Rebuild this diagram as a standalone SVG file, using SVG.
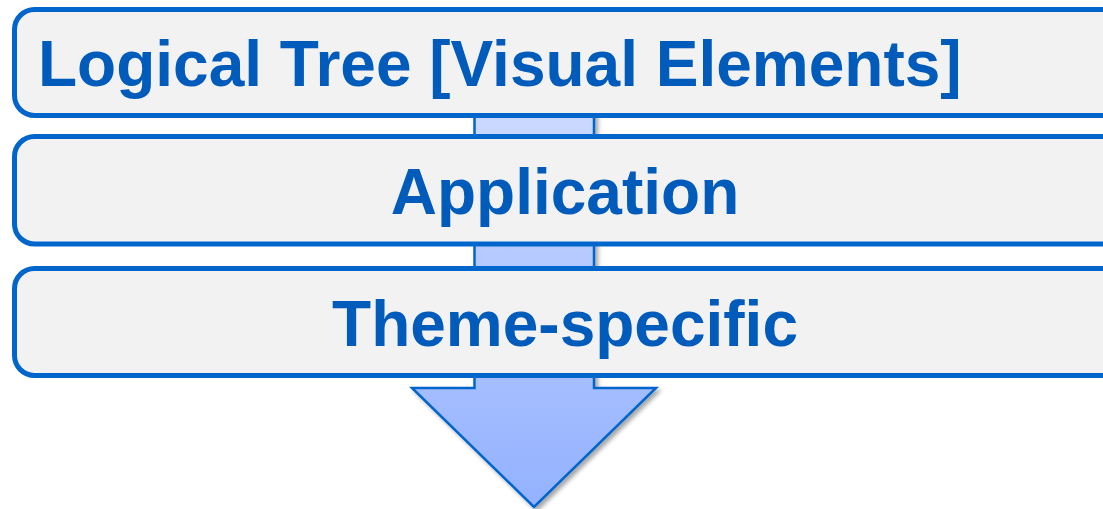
<svg xmlns="http://www.w3.org/2000/svg" width="1103" height="509" viewBox="0 0 1103 509">
  <defs>
    <linearGradient id="arrowGrad" x1="0" y1="0" x2="0" y2="1">
      <stop offset="0" stop-color="#d2deff"/>
      <stop offset="1" stop-color="#93b1ff"/>
    </linearGradient>
    <filter id="shadow" x="-10%" y="-10%" width="130%" height="130%">
      <feGaussianBlur in="SourceAlpha" stdDeviation="2"/>
      <feOffset dx="3" dy="3" result="b"/>
      <feComponentTransfer><feFuncA type="linear" slope="0.35"/></feComponentTransfer>
      <feMerge><feMergeNode/><feMergeNode in="SourceGraphic"/></feMerge>
    </filter>
    <style>
      .box { fill: #f2f2f2; stroke: #0066cc; stroke-width: 5; }
      .label { font-family: "Liberation Sans", Arial, sans-serif; font-weight: bold; font-size: 64px; fill: #005bbb; }
    </style>
  </defs>
  <rect width="1103" height="509" fill="#ffffff"/>
  <g id="connectors">
    <polygon points="474.5,60 594,60 594,388 656,388 534,507 412,388 474.5,388" fill="url(#arrowGrad)" stroke="#0066cc" stroke-width="2.5" stroke-linejoin="miter" filter="url(#shadow)"/>
  </g>
  <g id="node-logical">
    <rect class="box" x="14.5" y="9.5" width="1120" height="106" rx="20"/>
    <text class="label" x="38" y="86">Logical Tree [Visual Elements]</text>
  </g>
  <g id="node-application">
    <rect class="box" x="14.5" y="136.5" width="1120" height="107.5" rx="20"/>
    <text class="label" x="565" y="214" text-anchor="middle">Application</text>
  </g>
  <g id="node-theme">
    <rect class="box" x="14.5" y="268.5" width="1120" height="107" rx="20"/>
    <text class="label" x="565" y="345.5" text-anchor="middle">Theme-specific</text>
  </g>
</svg>
